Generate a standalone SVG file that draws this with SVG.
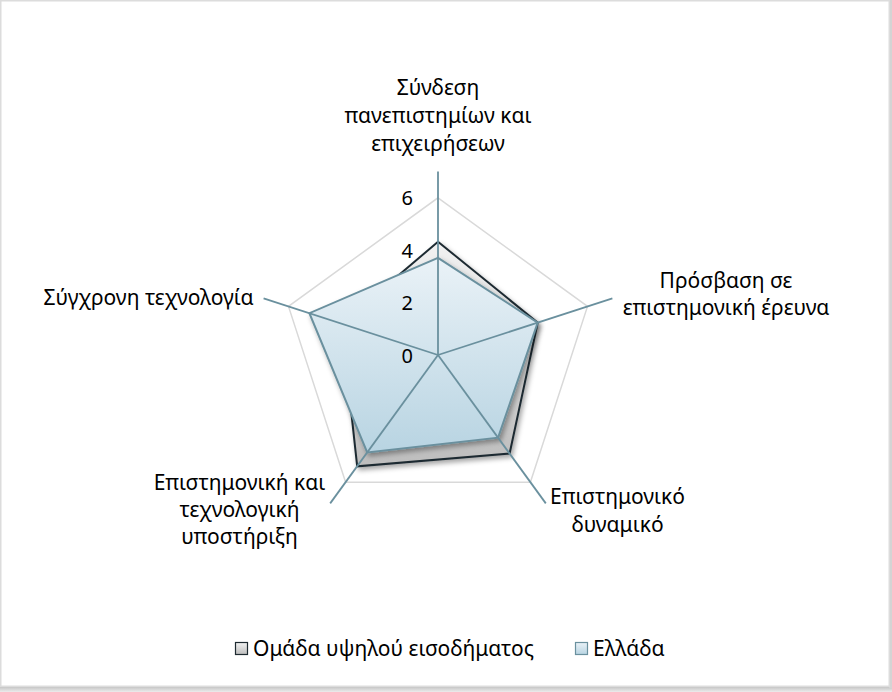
<svg xmlns="http://www.w3.org/2000/svg" width="892" height="692" viewBox="0 0 892 692">
<defs>
<style>
text{font-family:"Noto Sans","Open Sans","DejaVu Sans",sans-serif;font-size:21px;fill:#000}
.cat{text-anchor:middle}
.val{text-anchor:end;font-size:20px}
.grid{fill:none;stroke:#d9d9d9;stroke-width:1.5}
.axis{stroke:#6a909e;stroke-width:1.8;fill:none}
.s1{fill:url(#g1);stroke:#1e2a31;stroke-width:2;stroke-linejoin:miter}
.s2{fill:url(#g2);stroke:#6a909e;stroke-width:2;stroke-linejoin:miter}
</style>
<linearGradient id="g1" x1="0" y1="0" x2="0" y2="1">
<stop offset="0" stop-color="#f2f2f2"/>
<stop offset="1" stop-color="#bdbdbd"/>
</linearGradient>
<linearGradient id="g2" x1="0" y1="0" x2="0" y2="1">
<stop offset="0" stop-color="#eaf2f7"/>
<stop offset="1" stop-color="#b8d4e2"/>
</linearGradient>
<linearGradient id="shb" x1="0" y1="0" x2="0" y2="1">
<stop offset="0" stop-color="#bfbfbf"/>
<stop offset="1" stop-color="#ececec"/>
</linearGradient>
<filter id="sh" x="-20%" y="-20%" width="140%" height="140%">
<feDropShadow dx="2" dy="3" stdDeviation="2.5" flood-color="#000" flood-opacity="0.35"/>
</filter>
</defs>
<rect x="0" y="0" width="892" height="692" fill="#ffffff"/>
<rect x="0" y="686" width="892" height="6" fill="url(#shb)"/>
<rect x="889" y="0" width="3" height="688" fill="#d4d4d4"/>
<rect x="0.75" y="0.75" width="888.5" height="685.5" fill="#ffffff" stroke="#dcdcdc" stroke-width="1.5"/>

<g id="gridlines">
<polygon class="grid" points="438,197.8 587.5,306.4 530.4,482.2 345.6,482.2 288.5,306.4"/>
<polygon class="grid" points="438,250.2 537.7,322.6 499.6,439.8 376.4,439.8 338.3,322.6"/>
<polygon class="grid" points="438,302.6 487.8,338.8 468.8,397.4 407.2,397.4 388.2,338.8"/>
</g>

<g id="series-high-income" filter="url(#sh)">
<polygon class="s1" points="438,241.8 537.7,322.6 509.6,453.5 357.2,466.3 341.6,323.7"/>
</g>
<g id="series-greece" filter="url(#sh)">
<polygon class="s2" points="438,257.8 537.7,322.6 498.1,437.7 367.2,452.5 309.4,313.2"/>
</g>

<g id="connectors">
<line class="axis" x1="438" y1="355" x2="438" y2="171.6"/>
<line class="axis" x1="438" y1="355" x2="612.4" y2="298.3"/>
<line class="axis" x1="438" y1="355" x2="545.8" y2="503.4"/>
<line class="axis" x1="438" y1="355" x2="330.2" y2="503.4"/>
<line class="axis" x1="438" y1="355" x2="263.6" y2="298.3"/>
</g>

<g id="axis-values">
<text class="val" x="413" y="205">6</text>
<text class="val" x="413" y="257.5">4</text>
<text class="val" x="413" y="310">2</text>
<text class="val" x="413" y="362.5">0</text>
</g>

<g id="node-top">
<text class="cat" x="438" y="95">Σύνδεση</text>
<text class="cat" x="438" y="123">πανεπιστημίων και</text>
<text class="cat" x="438" y="151">επιχειρήσεων</text>
</g>
<g id="node-right">
<text class="cat" x="726" y="288">Πρόσβαση σε</text>
<text class="cat" x="726" y="315">επιστημονική έρευνα</text>
</g>
<g id="node-lower-right">
<text class="cat" x="617.5" y="503.5">Επιστημονικό</text>
<text class="cat" x="617.5" y="531.5">δυναμικό</text>
</g>
<g id="node-lower-left">
<text class="cat" x="239.5" y="490">Επιστημονική και</text>
<text class="cat" x="239.5" y="517">τεχνολογική</text>
<text class="cat" x="239.5" y="544">υποστήριξη</text>
</g>
<g id="node-left">
<text class="cat" x="148.5" y="305">Σύγχρονη τεχνολογία</text>
</g>

<g id="legend">
<rect x="235.5" y="642.5" width="12" height="12" fill="url(#g1)" stroke="#1e2a31" stroke-width="1.2"/>
<text x="253" y="656">Ομάδα υψηλού εισοδήματος</text>
<rect x="575.5" y="642.5" width="12" height="12" fill="url(#g2)" stroke="#6a909e" stroke-width="1.2"/>
<text x="593" y="656">Ελλάδα</text>
</g>
</svg>
